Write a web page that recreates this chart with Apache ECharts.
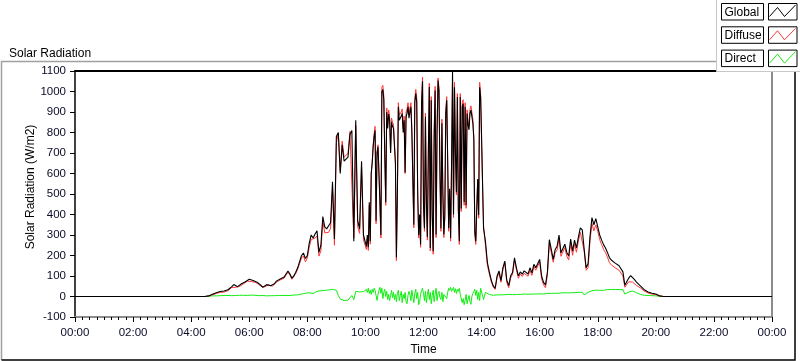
<!DOCTYPE html>
<html>
<head>
<meta charset="utf-8">
<script src="https://cdn.jsdelivr.net/npm/echarts@6/dist/echarts.min.js"></script>
<style>
html,body{margin:0;padding:0;background:#fff;}
#chart{width:800px;height:361px;}
</style>
</head>
<body>
<div id="chart"></div>
<script>
// Sampling: 04:28-09:56 every 4 min, 10:00-13:58 every 2 min, 14:00-20:28 every 4 min
const segStart = [268, 600, 840];
const segStep = [4, 2, 4];
const dayEndMin = 1440;
const nightValue = 0;
const xTickLabels = ['00:00','02:00','04:00','06:00','08:00','10:00','12:00','14:00','16:00','18:00','20:00','22:00','00:00'];
const yTicks = [-100, 1100, 100]; // min, max, interval
const seriesNames = ['Global', 'Diffuse', 'Direct'];

// Global (W/m2)
const g04 = [0,0,3,7,11,15,18,21];
const g05 = [24,25,27,30,33,37,48,58,50,48,55,62,68,72,80];
const g06 = [84,80,78,76,70,63,55,45,50,58,62,52,55,62,75];
const g07 = [78,85,90,95,110,124,110,90,100,118,140,170,200,212,185];
const g08 = [200,260,300,285,305,320,215,250,390,340,330,345,360,560,280];
const g09 = [780,800,600,740,660,662,680,790,810,270,860,370,330,660,300];
const g10 = [300,245,300,240,460,270,600,650,730,780,810,370,700,730,600,460,300,1000,1010,960,690,460,900,820,890,860,700,850,830,820];
const g11 = [820,650,190,500,925,860,860,880,893,800,860,605,877,893,925,870,900,925,797,573,350,945,990,950,509,300,400,254,940,1050];
const g12 = [446,333,877,461,290,700,1022,237,957,400,221,780,1005,302,800,1053,1000,600,333,845,509,302,397,893,957,653,333,525,285,650];
const g13 = [1095,400,1021,700,509,973,429,269,973,429,925,941,461,925,445,893,840,813,893,909,909,845,765,317,269,429,573,397,1021,973];
const g14 = [780,333,269,165,120,80,53,40,100,125,77,140,173,80,53];
const g15 = [101,117,189,140,101,120,109,125,130,110,140,115,157,140,135];
const g16 = [181,100,69,56,120,277,230,181,229,245,300,213,210,255,215];
const g17 = [197,280,221,275,237,290,335,325,229,140,160,293,385,350,380];
const g18 = [340,300,275,253,237,215,190,178,170,163,157,150,143,120,55];
const g19 = [50,90,102,92,82,70,61,52,44,33,26,22,18,16,14];
const g20 = [12,9,3,0,0,0,0,0];

// Diffuse (W/m2)
const f04 = [0,0,2,5,8,12,15,17];
const f05 = [20,21,22,25,28,31,44,51,45,43,49,57,62,66,75];
const f06 = [78,73,73,70,65,59,49,40,47,55,57,48,50,58,70];
const f07 = [73,81,85,89,105,118,105,84,93,112,132,160,188,198,169];
const f08 = [188,242,278,270,285,295,197,222,368,310,304,313,332,525,250];
const f09 = [750,795,612,758,680,681,698,805,805,285,835,340,308,632,276];
const f10 = [285,230,285,225,445,255,600,655,740,795,830,355,705,740,600,445,285,1020,1030,980,695,445,920,840,910,880,705,870,850,840];
const f11 = [840,655,175,490,945,885,885,900,915,820,880,600,900,915,945,890,920,945,815,565,335,965,1010,970,495,285,385,240,960,1070];
const f12 = [430,318,895,445,275,705,1040,222,975,385,206,795,1025,287,815,1065,1020,600,318,865,495,287,382,910,975,655,318,515,270,655];
const f13 = [1060,385,1045,705,495,990,415,254,990,415,945,960,445,945,430,910,860,830,910,930,930,865,780,300,254,415,565,382,1045,990];
const f14 = [740,348,249,153,110,72,47,35,92,115,69,130,164,69,43];
const f15 = [91,108,178,130,89,110,98,113,120,99,127,103,146,128,121];
const f16 = [168,86,57,43,105,260,215,167,213,227,284,196,192,239,197];
const f17 = [178,262,201,256,216,270,313,304,221,128,140,271,357,320,349];
const f18 = [318,278,253,230,214,192,166,154,147,140,134,128,121,100,45];
const f19 = [42,72,80,70,62,54,47,42,37,27,21,17,14,12,11];
const f20 = [9,7,2,0,0,0,0,0];

// Direct (W/m2)
const d04 = [0,0,1,2,3,3,3,4];
const d05 = [4,4,5,5,5,6,4,7,5,5,6,5,6,6,5];
const d06 = [6,7,5,6,5,4,6,5,3,3,5,4,5,4,5];
const d07 = [5,4,5,6,5,6,5,6,7,6,8,10,12,14,16];
const d08 = [12,18,22,15,20,25,18,28,22,30,26,32,28,35,30];
const d09 = [30,5,-12,-18,-20,-19,-18,-15,5,-15,25,30,22,28,24];
const d10 = [25,35,20,40,15,30,10,35,20,40,30,5,-19,10,30,45,15,40,-10,20,35,0,25,-15,10,-20,5,30,-5,20];
const d11 = [-15,10,-25,15,30,-20,5,25,-30,10,-10,20,-25,-35,5,25,10,-20,30,0,-30,15,35,-10,20,-40,-25,10,30,40];
const d12 = [15,-20,25,-30,10,35,-15,20,-35,5,30,-25,10,40,-20,15,25,-5,-15,20,-25,10,5,15,-10,20,40,30,45,25];
const d13 = [30,45,20,38,15,35,25,40,10,5,-30,-10,-40,-20,10,-35,-15,5,-25,-38,0,15,25,35,5,30,-15,20,-20,40];
const d14 = [40,-15,20,12,10,8,6,5,8,10,8,10,9,11,10];
const d15 = [10,9,11,10,12,10,11,12,10,11,13,12,11,12,14];
const d16 = [13,14,12,13,15,17,15,14,16,18,16,17,18,16,18];
const d17 = [19,18,20,19,21,20,22,21,8,12,20,22,28,30,31];
const d18 = [31,30,29,30,31,34,35,34,34,34,34,34,34,33,12];
const d19 = [10,22,29,27,22,18,16,10,7,6,5,5,4,4,3];
const d20 = [3,2,1,0,0,0,0,0];

const globalSegs = [[].concat(g04,g05,g06,g07,g08,g09), [].concat(g10,g11,g12,g13), [].concat(g14,g15,g16,g17,g18,g19,g20)];
const diffuseSegs = [[].concat(f04,f05,f06,f07,f08,f09), [].concat(f10,f11,f12,f13), [].concat(f14,f15,f16,f17,f18,f19,f20)];
const directSegs = [[].concat(d04,d05,d06,d07,d08,d09), [].concat(d10,d11,d12,d13), [].concat(d14,d15,d16,d17,d18,d19,d20)];

function toPairs(segs) {
  const out = [[0, nightValue]];
  segs.forEach((vals, s) => vals.forEach((v, i) => out.push([segStart[s] + i * segStep[s], v])));
  out.push([dayEndMin, nightValue]);
  return out;
}

const FONT = '"Liberation Sans", Arial, sans-serif';
const TXT = '#0a0a28';

const chart = echarts.init(document.getElementById('chart'), null, {renderer: 'canvas'});

function legendRow(i, name, color) {
  const y0 = 3.5 + i * 23.3;
  return [
    {type:'rect', shape:{x:721.5, y:y0, width:42, height:16.5}, style:{fill:'#fff', stroke:'#000', lineWidth:1}, z:101, silent:true},
    {type:'text', x:724.5, y:y0 + 9, style:{text:name, font:'12px ' + FONT, fill:'#000', verticalAlign:'middle', align:'left'}, z:102, silent:true},
    {type:'rect', shape:{x:768.5, y:y0, width:28.5, height:16.5}, style:{fill:'#fff', stroke:'#000', lineWidth:1}, z:101, silent:true},
    {type:'polyline', shape:{points:[[769.5, y0+13],[777.5, y0+4],[784.5, y0+13],[795.5, y0+1.5]]}, style:{stroke:color, lineWidth:1, fill:null}, z:102, silent:true}
  ];
}

const option = {
  animation: false,
  backgroundColor: '#fff',
  title: {
    text: 'Solar Radiation', left: 4, top: 43,
    textStyle: {fontSize: 12, fontWeight: 'normal', color: '#000', fontFamily: FONT}
  },
  grid: {left: 75, right: 28, top: 71, bottom: 39, containLabel: false},
  xAxis: [
    {
      type: 'value', min: 0, max: dayEndMin, interval: 120, position: 'bottom',
      axisLine: {show: true, onZero: false, lineStyle: {color: '#8c8c8c', width: 2}},
      axisTick: {show: true, length: 5, lineStyle: {color: '#000', width: 1}},
      minorTick: {show: true, splitNumber: 8, length: 3, lineStyle: {color: '#000', width: 1}},
      splitLine: {show: false}, minorSplitLine: {show: false},
      axisLabel: {formatter: v => xTickLabels[Math.round(v / 120)], margin: 10, color: TXT, fontSize: 11.5, fontFamily: FONT},
      name: 'Time', nameLocation: 'middle', nameGap: 27,
      nameTextStyle: {fontSize: 12, color: '#000', fontFamily: FONT}
    },
    {
      type: 'value', min: 0, max: dayEndMin, position: 'top',
      axisLine: {show: true, onZero: false, lineStyle: {color: '#000', width: 2}},
      axisTick: {show: false}, axisLabel: {show: false}, splitLine: {show: false}
    }
  ],
  yAxis: [
    {
      type: 'value', min: yTicks[0], max: yTicks[1], interval: yTicks[2], position: 'left',
      axisLine: {show: true, onZero: false, lineStyle: {color: '#000', width: 1.5}},
      axisTick: {show: true, length: 5, lineStyle: {color: '#000', width: 1}},
      splitLine: {show: false},
      axisLabel: {formatter: v => String(v), margin: 9, color: TXT, fontSize: 11.5, fontFamily: FONT}
    },
    {
      type: 'value', min: yTicks[0], max: yTicks[1], interval: yTicks[2], position: 'right',
      axisLine: {show: true, onZero: false, lineStyle: {color: '#8c8c8c', width: 2}},
      axisTick: {show: false}, axisLabel: {show: false}, splitLine: {show: false}
    }
  ],
  series: [
    {name: seriesNames[2], type: 'line', data: toPairs(directSegs), showSymbol: false, symbol: 'none',
     lineStyle: {color: '#11ee11', width: 1}, itemStyle: {color: '#11ee11'}, z: 2},
    {name: seriesNames[1], type: 'line', data: toPairs(diffuseSegs), showSymbol: false, symbol: 'none',
     lineStyle: {color: '#ff3838', width: 1}, itemStyle: {color: '#ff3838'}, z: 3},
    {name: seriesNames[0], type: 'line', data: toPairs(globalSegs), showSymbol: false, symbol: 'none',
     lineStyle: {color: '#000', width: 1.1}, itemStyle: {color: '#000'}, z: 4}
  ],
  graphic: [
    {type:'text', x:31, y:187, rotation: Math.PI/2, style:{text:'Solar Radiation (W/m2)', font:'12px ' + FONT, fill:'#000', align:'center', verticalAlign:'middle'}, silent:true},
    {type:'polyline', shape:{points:[[1.5,360],[1.5,61.5],[717,61.5]]}, style:{stroke:'#a0a0a0', lineWidth:1.5, fill:null}, silent:true},
    {type:'polyline', shape:{points:[[1.5,360],[795,360],[795,72]]}, style:{stroke:'#000', lineWidth:1.5, fill:null}, silent:true},
    {type:'rect', shape:{x:716.5, y:-1, width:90, height:72.5}, style:{fill:'#fff', stroke:'#c8c8c8', lineWidth:1}, z:100, silent:true}
  ].concat(legendRow(0, 'Global', '#000'), legendRow(1, 'Diffuse', '#ff3838'), legendRow(2, 'Direct', '#11ee11'))
};

chart.setOption(option);
</script>
</body>
</html>
